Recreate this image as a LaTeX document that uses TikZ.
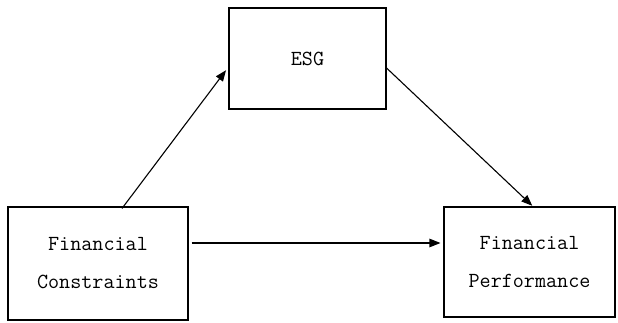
\documentclass[tikz,border=0pt]{standalone}
\usepackage{tikz}
\usetikzlibrary{calc, arrows, arrows.meta}
\tikzstyle{block}=[draw, line width=1.1pt, align=center, inner sep=0pt, font=\fontsize{21.5}{38}\selectfont\ttfamily]
\tikzstyle{link}=[line width=1.1pt, -{Triangle[length=11pt,width=8.5pt]}]

\begin{document}
\begin{tikzpicture}[x=1pt,y=-1pt]

		%fix the page size
		\useasboundingbox (0,0) rectangle (618,322);

		%draw the three boxes
		\node[block, minimum width=157pt, minimum height=101pt] (esg) at (307.5,58.5) {ESG};
		\node[block, minimum width=180pt, minimum height=113pt] (fc) at (98,263.5) {Financial\\Constraints};
		\node[block, minimum width=171pt, minimum height=110pt] (fp) at (529.5,262) {Financial\\Performance};

		%draw the paths between them
		\draw[link, shorten >=4pt] ([xshift=24pt,yshift=-2pt]fc.north) -- ([yshift=-8.5pt]esg.west);
		\draw[link, shorten >=1pt] ([yshift=-9.5pt]esg.east) -- ([xshift=3.5pt]fp.north);
		\draw[link] ([xshift=3pt,yshift=20.5pt]fc.east) -- ([xshift=-3pt,yshift=19pt]fp.west);

	\end{tikzpicture}
\end{document}
